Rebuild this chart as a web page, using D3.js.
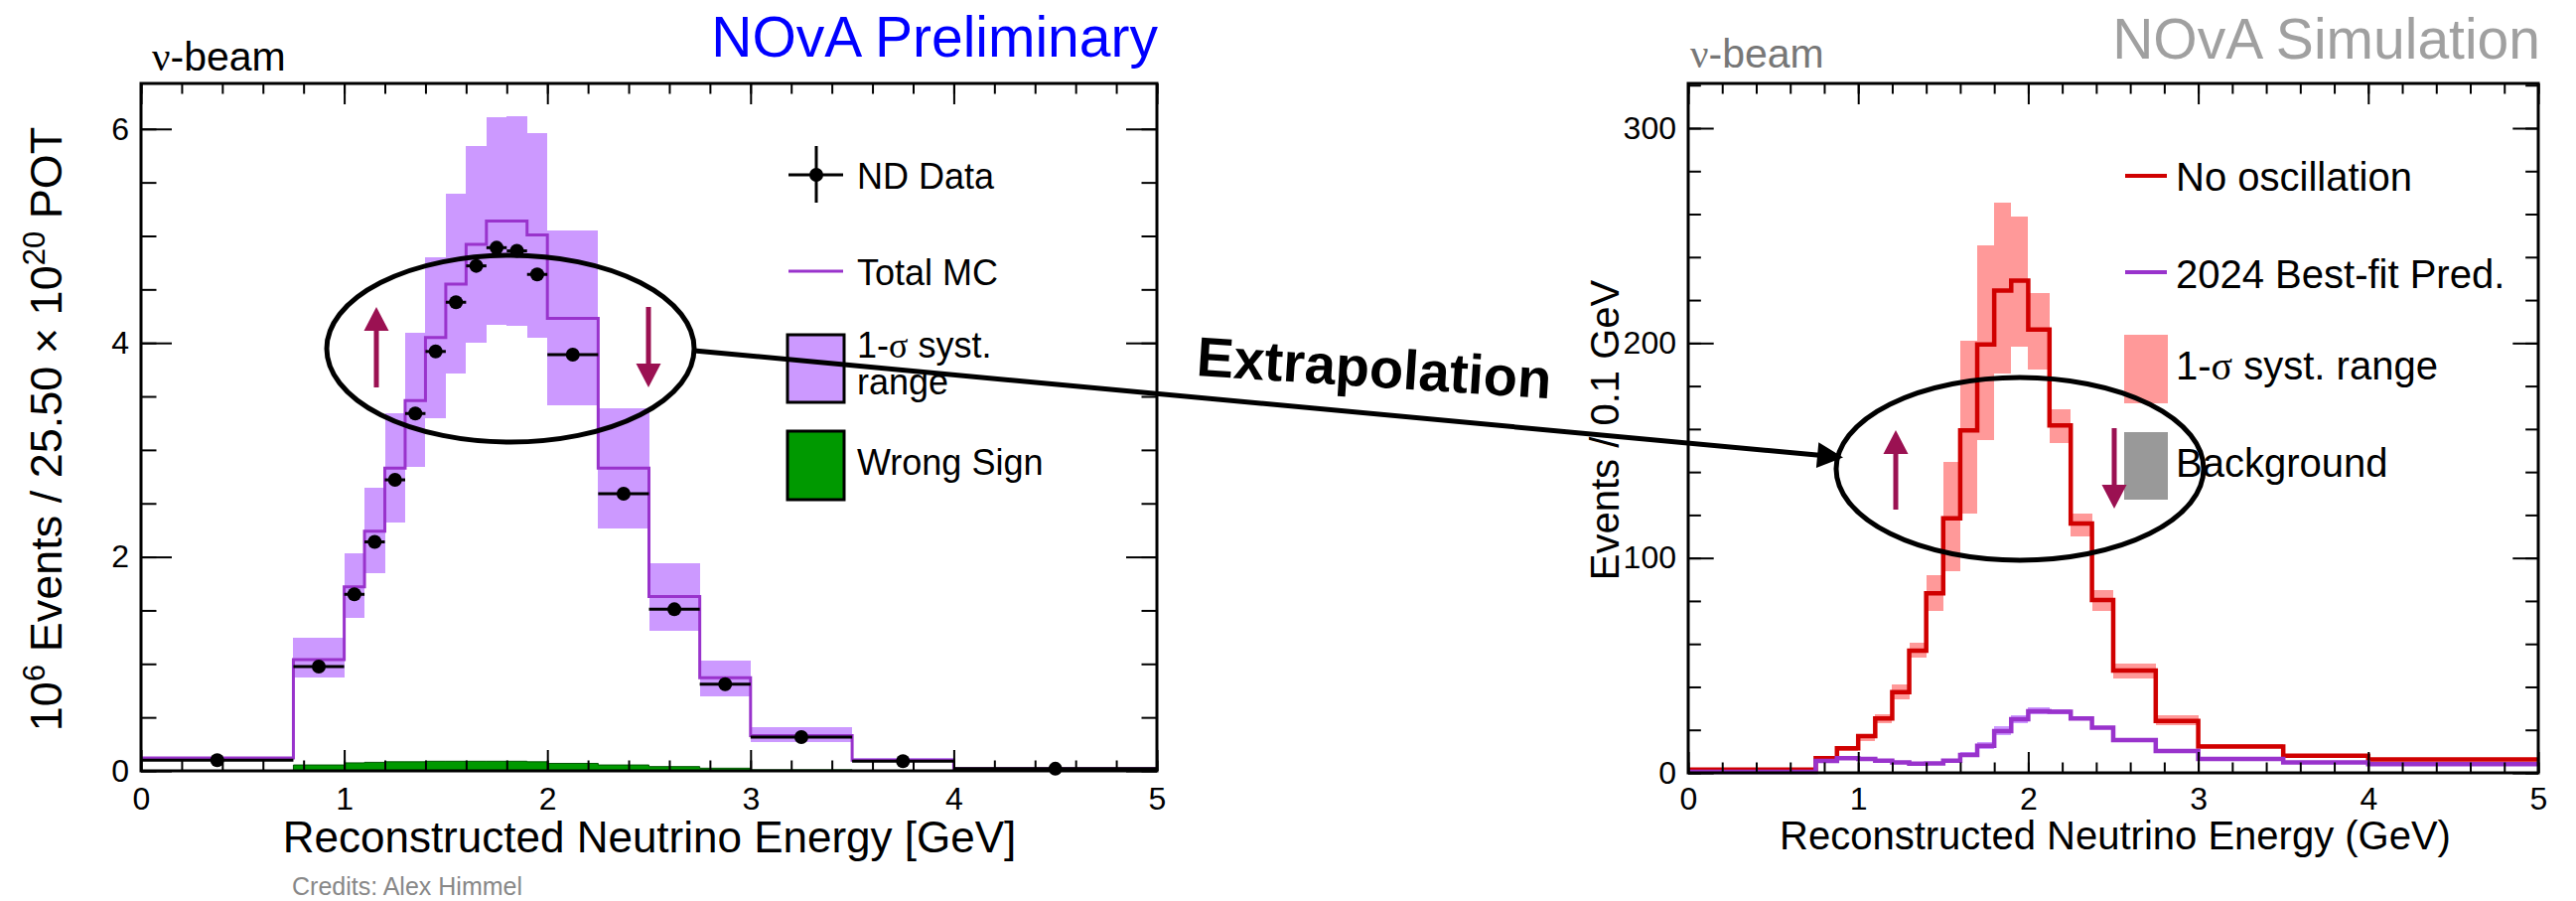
<!DOCTYPE html>
<html>
<head>
<meta charset="utf-8">
<title>NOvA extrapolation</title>
<script src="https://cdn.jsdelivr.net/npm/d3@7"></script>
<style>
  body { margin: 0; background: #fff; }
  svg text { font-family: "Liberation Sans", Arial, Helvetica, sans-serif; }
  .tick line { stroke: #000; stroke-width: 2px; }
  .tick text { font-size: 32px; fill: #000; }
</style>
</head>
<body>
<svg id="chart" width="2594" height="907"></svg>
<script>
// ---- left panel: ND spectrum (10^6 events / 25.50e20 POT) ----
var ndEdges   = [0, 0.75, 1.0, 1.1, 1.2, 1.3, 1.4, 1.5, 1.6, 1.7, 1.8, 1.9, 2.0, 2.25, 2.5, 2.75, 3.0, 3.5, 4.0, 5.0];
var ndMC      = [0.12, 1.04, 1.72, 2.24, 2.83, 3.46, 4.05, 4.55, 4.92, 5.14, 5.14, 5.01, 4.23, 2.83, 1.63, 0.87, 0.33, 0.10, 0.02];
var ndMCHi    = [0.13, 1.24, 2.03, 2.65, 3.34, 4.09, 4.80, 5.39, 5.84, 6.11, 6.12, 5.96, 5.05, 3.39, 1.94, 1.03, 0.41, 0.12, 0.03];
var ndMCLo    = [0.11, 0.87, 1.43, 1.85, 2.32, 2.84, 3.30, 3.71, 4.00, 4.17, 4.16, 4.05, 3.42, 2.27, 1.31, 0.70, 0.27, 0.08, 0.01];
var ndData    = [0.10, 0.975, 1.65, 2.14, 2.72, 3.34, 3.92, 4.38, 4.72, 4.89, 4.86, 4.64, 3.89, 2.59, 1.51, 0.81, 0.315, 0.09, 0.02];
var ndWrongSign = [0.0, 0.055, 0.075, 0.08, 0.085, 0.085, 0.09, 0.09, 0.09, 0.09, 0.09, 0.085, 0.07, 0.055, 0.04, 0.025, 0.01, 0.005, 0.0];

// ---- right panel: FD prediction (events / 0.1 GeV) ----
var fdEdges   = [0, 0.75, 0.875, 1.0, 1.1, 1.2, 1.3, 1.4, 1.5, 1.6, 1.7, 1.8, 1.9, 2.0, 2.125, 2.25, 2.375, 2.5, 2.75, 3.0, 3.5, 4.0, 5.0];
var noOsc     = [1.5, 6.8, 11.4, 17.1, 25.3, 37.6, 56.9, 83.5, 118.5, 159.4, 199.4, 224.4, 229.0, 206.3, 161.7, 116.0, 80.4, 47.6, 24.2, 12.2, 8.0, 6.2];
var noOscHi   = [1.7, 7.5, 12.5, 17.6, 27.5, 41.0, 60.7, 91.8, 144.7, 201.0, 245.6, 265.4, 258.7, 223.3, 169.0, 120.8, 85.0, 50.7, 26.8, 13.6, 8.8, 6.8];
var noOscLo   = [1.3, 6.1, 10.3, 15.0, 22.9, 34.2, 53.6, 75.3, 93.9, 120.8, 154.7, 186.0, 198.2, 187.8, 153.3, 110.0, 75.3, 43.8, 22.3, 11.5, 7.4, 5.8];
var bestFit   = [0.5, 5.5, 6.8, 6.5, 5.7, 4.9, 4.3, 4.4, 5.7, 8.3, 12.6, 19.4, 25.0, 28.7, 28.4, 25.3, 21.0, 15.3, 10.2, 6.5, 4.8, 4.1];
var bestFitHi = [0.6, 5.8, 7.1, 6.8, 6.0, 5.2, 4.6, 4.8, 6.4, 9.6, 14.4, 21.5, 27.0, 30.3, 29.8, 26.3, 21.8, 15.9, 10.6, 6.8, 5.0, 4.3];
var bestFitLo = [0.4, 5.2, 6.5, 6.2, 5.4, 4.6, 4.0, 4.0, 5.0, 7.2, 11.0, 17.5, 23.2, 27.3, 27.1, 24.3, 20.2, 14.7, 9.8, 6.2, 4.6, 3.9];

var xTicksMajor = [0, 1, 2, 3, 4, 5];
var ndYTicksMajor = [0, 2, 4, 6];
var fdYTicksMajor = [0, 100, 200, 300];

var svg = d3.select('#chart');
svg.append('rect').attr('width', 2594).attr('height', 907).attr('fill', '#fff');

var arrowColor = '#9b1152';

// scales
var xL = d3.scaleLinear().domain([0, 5]).range([142, 1165]);
var yL = d3.scaleLinear().domain([0, 6.425]).range([776, 84]);
var xR = d3.scaleLinear().domain([0, 5]).range([1700, 2556]);
var yR = d3.scaleLinear().domain([0, 320.8]).range([778, 84]);

function stepPath(edges, vals, x, y) {
  var p = 'M' + x(edges[0]) + ',' + y(vals[0]);
  for (var i = 0; i < vals.length; i++) {
    p += 'H' + x(edges[i + 1]);
    if (i + 1 < vals.length) p += 'V' + y(vals[i + 1]);
  }
  return p;
}

function band(g, edges, lo, hi, x, y, color) {
  g.selectAll(null).data(lo).enter().append('rect')
    .attr('x', function(d, i) { return x(edges[i]); })
    .attr('width', function(d, i) { return x(edges[i + 1]) - x(edges[i]); })
    .attr('y', function(d, i) { return y(hi[i]); })
    .attr('height', function(d, i) { return y(lo[i]) - y(hi[i]); })
    .attr('fill', color)
    .attr('shape-rendering', 'crispEdges');
}

function axes(g, x, y, yMajor, yStep, yLen, xLen, xPad) {
  var x0 = x.range()[0], x1 = x.range()[1], y0 = y.range()[0], y1 = y.range()[1];
  var xMinor = d3.range(0, 5.001, 0.2);
  var yMinor = d3.range(0, y.domain()[1] + 1e-6, yStep);
  var clean = function(s) { s.select('.domain').remove(); };
  g.append('g').attr('transform', 'translate(0,' + y0 + ')')
    .call(d3.axisBottom(x).tickValues(xMinor).tickSize(-xLen / 2).tickFormat('')).call(clean);
  g.append('g').attr('transform', 'translate(0,' + y0 + ')')
    .call(d3.axisBottom(x).tickValues(xTicksMajor).tickSize(-xLen).tickPadding(xPad).tickFormat(d3.format('d'))).call(clean);
  g.append('g').attr('transform', 'translate(0,' + y1 + ')')
    .call(d3.axisTop(x).tickValues(xMinor).tickSize(-xLen / 2).tickFormat('')).call(clean);
  g.append('g').attr('transform', 'translate(0,' + y1 + ')')
    .call(d3.axisTop(x).tickValues(xTicksMajor).tickSize(-xLen).tickFormat('')).call(clean);
  g.append('g').attr('transform', 'translate(' + x0 + ',0)')
    .call(d3.axisLeft(y).tickValues(yMinor).tickSize(-yLen / 2).tickFormat('')).call(clean);
  g.append('g').attr('transform', 'translate(' + x0 + ',0)')
    .call(d3.axisLeft(y).tickValues(yMajor).tickSize(-yLen).tickPadding(12).tickFormat(d3.format('d'))).call(clean);
  g.append('g').attr('transform', 'translate(' + x1 + ',0)')
    .call(d3.axisRight(y).tickValues(yMinor).tickSize(-yLen / 2).tickFormat('')).call(clean);
  g.append('g').attr('transform', 'translate(' + x1 + ',0)')
    .call(d3.axisRight(y).tickValues(yMajor).tickSize(-yLen).tickFormat('')).call(clean);
  g.append('rect').attr('x', x0).attr('y', y1).attr('width', x1 - x0).attr('height', y0 - y1)
    .attr('fill', 'none').attr('stroke', '#000').attr('stroke-width', 3);
}

function vArrow(g, x, yTail, yTip) {
  var dir = yTip < yTail ? -1 : 1;
  g.append('line').attr('x1', x).attr('x2', x).attr('y1', yTail).attr('y2', yTip - dir * 20)
    .attr('stroke', arrowColor).attr('stroke-width', 5);
  g.append('path')
    .attr('d', 'M' + (x - 12.5) + ',' + (yTip - dir * 24) + 'L' + (x + 12.5) + ',' + (yTip - dir * 24) + 'L' + x + ',' + yTip + 'Z')
    .attr('fill', arrowColor);
}

// ================= left panel =================
var gl = svg.append('g');
band(gl, ndEdges, ndMCLo, ndMCHi, xL, yL, '#cc99ff');

// wrong sign fill
var wsArea = stepPath(ndEdges, ndWrongSign, xL, yL);
gl.append('path').attr('d', wsArea + 'V' + yL(0) + 'H' + xL(0) + 'Z')
  .attr('fill', '#009900').attr('stroke', '#005500').attr('stroke-width', 1);

gl.append('path').attr('d', stepPath(ndEdges, ndMC, xL, yL))
  .attr('fill', 'none').attr('stroke', '#9933cc').attr('stroke-width', 3);

// data points with bin-width x errors
var pts = gl.append('g');
ndData.forEach(function(v, i) {
  pts.append('line').attr('x1', xL(ndEdges[i])).attr('x2', xL(ndEdges[i + 1]))
    .attr('y1', yL(v)).attr('y2', yL(v)).attr('stroke', '#000').attr('stroke-width', 3);
  pts.append('circle').attr('cx', xL((ndEdges[i] + ndEdges[i + 1]) / 2)).attr('cy', yL(v))
    .attr('r', 7).attr('fill', '#000');
});

axes(gl, xL, yL, ndYTicksMajor, 0.5, 31, 21, 16);

gl.append('text').attr('x', 654).attr('y', 858).attr('text-anchor', 'middle')
  .attr('font-size', 44).text('Reconstructed Neutrino Energy [GeV]');
var ylab = gl.append('text').attr('transform', 'translate(62,432) rotate(-90)')
  .attr('text-anchor', 'middle').attr('font-size', 45);
ylab.append('tspan').text('10');
ylab.append('tspan').attr('font-size', 31).attr('dy', -17).text('6');
ylab.append('tspan').attr('dy', 17).text(' Events / 25.50 \u00d7 10');
ylab.append('tspan').attr('font-size', 31).attr('dy', -17).text('20');
ylab.append('tspan').attr('dy', 17).text(' POT');

var nb = gl.append('text').attr('x', 153).attr('y', 71).attr('font-size', 41);
nb.append('tspan').attr('font-family', '"Liberation Serif", serif').text('\u03bd');
nb.append('tspan').text('-beam');
gl.append('text').attr('x', 1166).attr('y', 57).attr('text-anchor', 'end')
  .attr('font-size', 57).attr('fill', '#0000ff').text('NOvA Preliminary');

// left legend
var lg = gl.append('g').attr('font-size', 36);
lg.append('line').attr('x1', 794).attr('x2', 849).attr('y1', 176).attr('y2', 176).attr('stroke', '#000').attr('stroke-width', 3);
lg.append('line').attr('x1', 822).attr('x2', 822).attr('y1', 147).attr('y2', 204).attr('stroke', '#000').attr('stroke-width', 3);
lg.append('circle').attr('cx', 822).attr('cy', 176).attr('r', 7).attr('fill', '#000');
lg.append('text').attr('x', 863).attr('y', 190).text('ND Data');
lg.append('line').attr('x1', 794).attr('x2', 849).attr('y1', 273).attr('y2', 273).attr('stroke', '#9933cc').attr('stroke-width', 3);
lg.append('text').attr('x', 863).attr('y', 287).text('Total MC');
lg.append('rect').attr('x', 793).attr('y', 337).attr('width', 57).attr('height', 68)
  .attr('fill', '#cc99ff').attr('stroke', '#000').attr('stroke-width', 3);
var s1 = lg.append('text').attr('x', 863).attr('y', 360);
s1.append('tspan').text('1-');
s1.append('tspan').attr('font-family', '"Liberation Serif", serif').text('\u03c3');
s1.append('tspan').text(' syst.');
lg.append('text').attr('x', 863).attr('y', 397).text('range');
lg.append('rect').attr('x', 793).attr('y', 434).attr('width', 57).attr('height', 69)
  .attr('fill', '#009900').attr('stroke', '#000').attr('stroke-width', 3);
lg.append('text').attr('x', 863).attr('y', 478).text('Wrong Sign');

// ================= right panel =================
var gr = svg.append('g');
band(gr, fdEdges, noOscLo, noOscHi, xR, yR, '#ff9999');
band(gr, fdEdges, bestFitLo, bestFitHi, xR, yR, '#cc99ff');
gr.append('path').attr('d', stepPath(fdEdges, noOsc, xR, yR))
  .attr('fill', 'none').attr('stroke', '#d00000').attr('stroke-width', 4.5);
gr.append('path').attr('d', stepPath(fdEdges, bestFit, xR, yR))
  .attr('fill', 'none').attr('stroke', '#9933cc').attr('stroke-width', 4.5);

axes(gr, xR, yR, fdYTicksMajor, 20, 25.7, 21, 14);

gr.append('text').attr('x', 2130).attr('y', 855).attr('text-anchor', 'middle')
  .attr('font-size', 40).text('Reconstructed Neutrino Energy (GeV)');
gr.append('text').attr('transform', 'translate(1630,433) rotate(-90)')
  .attr('text-anchor', 'middle').attr('font-size', 40).text('Events / 0.1 GeV');

var nb2 = gr.append('text').attr('x', 1702).attr('y', 68).attr('font-size', 41).attr('fill', '#777');
nb2.append('tspan').attr('font-family', '"Liberation Serif", serif').text('\u03bd');
nb2.append('tspan').text('-beam');
gr.append('text').attr('x', 2558).attr('y', 59).attr('text-anchor', 'end')
  .attr('font-size', 57).attr('fill', '#a0a0a0').text('NOvA Simulation');

// right legend
var rg = gr.append('g').attr('font-size', 40);
rg.append('line').attr('x1', 2140).attr('x2', 2182).attr('y1', 177).attr('y2', 177).attr('stroke', '#d00000').attr('stroke-width', 4);
rg.append('text').attr('x', 2191).attr('y', 192).text('No oscillation');
rg.append('line').attr('x1', 2140).attr('x2', 2182).attr('y1', 274).attr('y2', 274).attr('stroke', '#9933cc').attr('stroke-width', 4);
rg.append('text').attr('x', 2191).attr('y', 290).text('2024 Best-fit Pred.');
rg.append('rect').attr('x', 2139).attr('y', 337).attr('width', 44).attr('height', 69).attr('fill', '#ff9999');
var s2 = rg.append('text').attr('x', 2191).attr('y', 382);
s2.append('tspan').text('1-');
s2.append('tspan').attr('font-family', '"Liberation Serif", serif').text('\u03c3');
s2.append('tspan').text(' syst. range');
rg.append('rect').attr('x', 2139).attr('y', 435).attr('width', 44).attr('height', 68).attr('fill', '#999999');
rg.append('text').attr('x', 2191).attr('y', 480).text('Background');

// ================= annotations =================
var an = svg.append('g');
an.append('ellipse').attr('cx', 514).attr('cy', 351).attr('rx', 185).attr('ry', 94)
  .attr('fill', 'none').attr('stroke', '#000').attr('stroke-width', 5);
an.append('ellipse').attr('cx', 2034).attr('cy', 472).attr('rx', 185).attr('ry', 92)
  .attr('fill', 'none').attr('stroke', '#000').attr('stroke-width', 5);
vArrow(an, 379, 390, 309);
vArrow(an, 653, 309, 390);
vArrow(an, 1909, 513, 433);
vArrow(an, 2129, 431, 512);

// extrapolation arrow
var ax0 = 699, ay0 = 353, ax1 = 1856, ay1 = 460.5;
var ang = Math.atan2(ay1 - ay0, ax1 - ax0), hl = 26, hw = 13;
var bx = ax1 - hl * Math.cos(ang), by = ay1 - hl * Math.sin(ang);
an.append('line').attr('x1', ax0).attr('y1', ay0).attr('x2', bx + 2 * Math.cos(ang)).attr('y2', by + 2 * Math.sin(ang))
  .attr('stroke', '#000').attr('stroke-width', 5);
an.append('path')
  .attr('d', 'M' + ax1 + ',' + ay1 +
    'L' + (bx - hw * Math.sin(ang)) + ',' + (by + hw * Math.cos(ang)) +
    'L' + (bx + hw * Math.sin(ang)) + ',' + (by - hw * Math.cos(ang)) + 'Z')
  .attr('fill', '#000');

an.append('text').attr('transform', 'translate(1204,378) rotate(3.7)')
  .attr('font-size', 56).attr('font-weight', 'bold').text('Extrapolation');

svg.append('text').attr('x', 294).attr('y', 901).attr('font-size', 25).attr('fill', '#888')
  .text('Credits: Alex Himmel');
</script>
</body>
</html>
